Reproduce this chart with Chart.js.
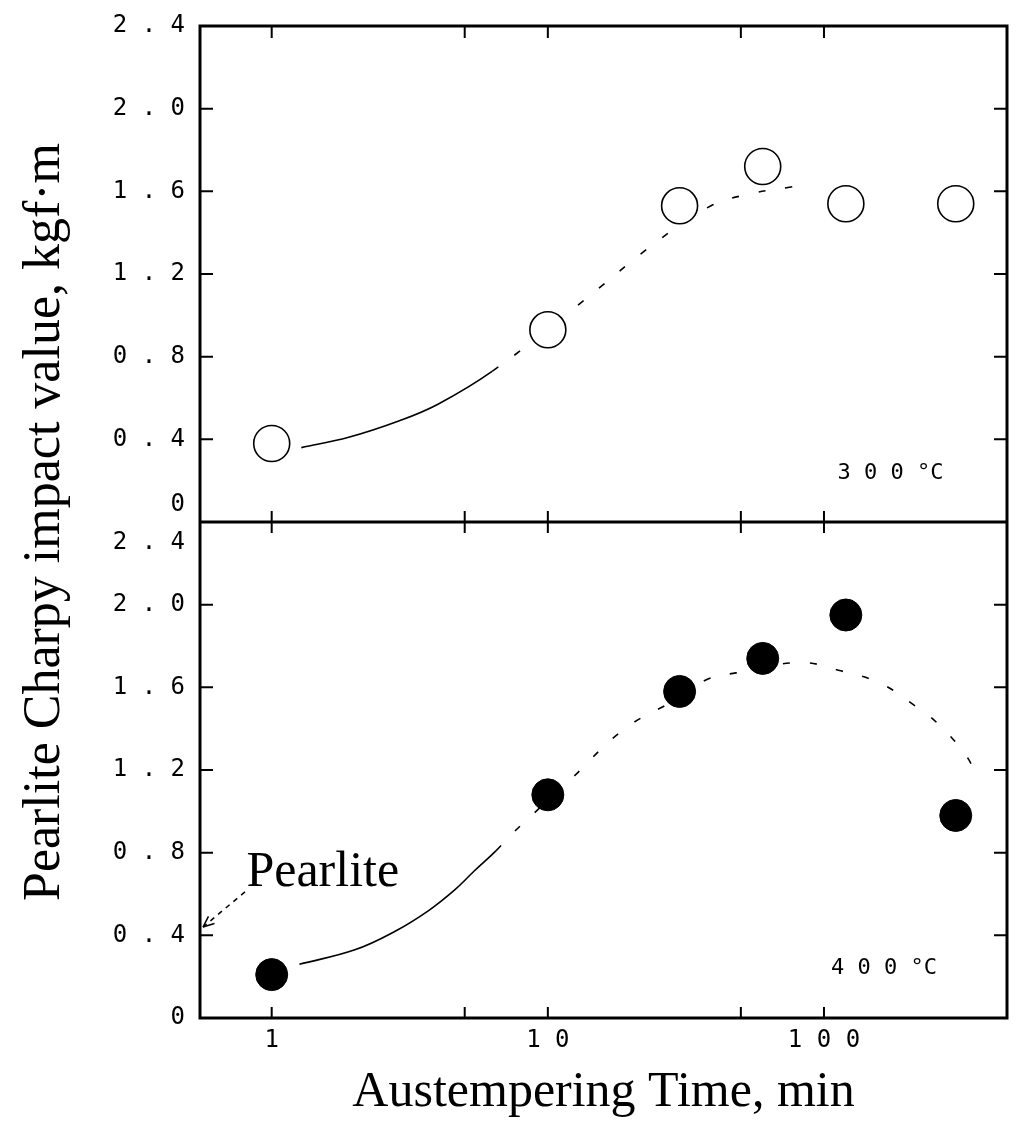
<!DOCTYPE html>
<html lang="en">
  <head>
    <meta charset="UTF-8" />
    <title>Pearlite Charpy impact value vs Austempering Time</title>
    <style>
      html, body { margin: 0; padding: 0; background: #fff; }
      .main { position: relative; width: 1018px; height: 1131px; }
    </style>
  </head>
  <body>
    <div class="main">
      <canvas id="chart-1" width="1018" height="1131"></canvas>
    </div>
    <script src="https://cdn.jsdelivr.net/npm/chart.js"></script>
    <script>
      // austempering time, min
      const times = [1, 10, 30, 60, 120, 300];
      // impact values, kgf.m
      const impact300 = [0.38, 0.93, 1.53, 1.72, 1.54, 1.54];
      const impact400 = [0.21, 1.08, 1.58, 1.74, 1.95, 0.98];

      // hand drawn trend curves
      const fit300X = [1.28, 1.9, 2.9, 4.0, 6.3, 12.6, 25, 39, 55, 75, 90];
      const fit300Y = [0.36, 0.41, 0.49, 0.57, 0.73, 1.04, 1.36, 1.53, 1.59, 1.62, 1.64];
      const fit400X = [1.26, 2.0, 2.8, 3.7, 4.6, 5.4, 6.5, 7.4, 12, 19, 30, 38, 48, 82, 115, 160, 214, 256, 323, 360];
      const fit400Y = [0.26, 0.33, 0.42, 0.52, 0.62, 0.71, 0.81, 0.89, 1.15, 1.40, 1.55, 1.64, 1.67, 1.72, 1.68, 1.62, 1.51, 1.43, 1.28, 1.17];

      // pearlite reference value (arrow on the axis)
      const pearliteValue = 0.44;

      const xTicks = [1, 5, 10, 50, 100];
      const xTickLabels = ["1", "", "1 0", "", "1 0 0"];
      const yTicks = [0, 0.4, 0.8, 1.2, 1.6, 2.0, 2.4];
      const yTickLabels = ["0", "0 . 4", "0 . 8", "1 . 2", "1 . 6", "2 . 0", "2 . 4"];

      const toXY = (xs, ys) => xs.map((v, i) => ({ x: v, y: ys[i] }));

      const tickFont = { family: "DejaVu Sans Mono", size: 24 };
      const serif = "Liberation Serif";

      const dashAfter = (limit) => (c) => (c.p0.parsed.x >= limit ? [7, 20] : undefined);

      const yScale = (hideValue) => ({
        type: "linear",
        position: "left",
        stack: "panels",
        stackWeight: 1,
        min: 0,
        max: 2.4,
        afterBuildTicks: (s) => { s.ticks = yTicks.map((v) => ({ value: v })); },
        afterFit: (s) => { s.width = 200; s.paddingTop = 0; s.paddingBottom = 0; },
        grid: { display: false, drawTicks: false },
        border: { display: false },
        ticks: {
          autoSkip: false,
          padding: 15,
          color: "#000",
          font: tickFont,
          callback: (v) => (v === hideValue ? null : yTickLabels[yTicks.indexOf(v)]),
        },
      });

      const framePlugin = {
        id: "frame",
        afterDraw(chart) {
          const { ctx, chartArea: a, scales } = chart;
          const x = scales.x, yTop = scales.yTop, yBot = scales.yBot;
          const seam = yTop.getPixelForValue(0);
          ctx.save();
          ctx.strokeStyle = "#000";
          ctx.lineWidth = 3;
          ctx.strokeRect(a.left, a.top, a.right - a.left, a.bottom - a.top);
          ctx.beginPath();
          ctx.moveTo(a.left, seam);
          ctx.lineTo(a.right, seam);
          ctx.stroke();

          ctx.lineWidth = 2;
          ctx.beginPath();
          xTicks.forEach((v) => {
            const px = x.getPixelForValue(v);
            ctx.moveTo(px, a.top); ctx.lineTo(px, a.top + 12);
            ctx.moveTo(px, seam - 11); ctx.lineTo(px, seam + 11);
            ctx.moveTo(px, a.bottom - 11); ctx.lineTo(px, a.bottom);
          });
          [yTop, yBot].forEach((s) => {
            yTicks.slice(1, -1).forEach((v) => {
              const py = s.getPixelForValue(v);
              ctx.moveTo(a.left, py); ctx.lineTo(a.left + 13, py);
              ctx.moveTo(a.right - 13, py); ctx.lineTo(a.right, py);
            });
          });
          ctx.stroke();

          // seam labels, pushed apart
          ctx.fillStyle = "#000";
          ctx.font = "24px 'DejaVu Sans Mono'";
          ctx.textAlign = "right";
          ctx.textBaseline = "middle";
          ctx.fillText(yTickLabels[0], a.left - 15, seam - 17);
          ctx.fillText(yTickLabels[yTickLabels.length - 1], a.left - 15, seam + 21);

          // panel temperature labels
          ctx.textAlign = "left";
          ctx.font = "22px 'DejaVu Sans Mono'";
          ctx.fillText("3 0 0 °C", x.getPixelForValue(112), yTop.getPixelForValue(0.235));
          ctx.fillText("4 0 0 °C", x.getPixelForValue(106), yBot.getPixelForValue(0.24));

          // Pearlite note with dashed arrow to the axis
          ctx.font = "50px '" + serif + "'";
          ctx.fillText("Pearlite", x.getPixelForValue(0.81), yBot.getPixelForValue(0.70));
          const sx = x.getPixelForValue(0.8), sy = yBot.getPixelForValue(0.61);
          const ex = a.left + 3, ey = yBot.getPixelForValue(pearliteValue);
          ctx.lineWidth = 1.5;
          ctx.setLineDash([5, 5]);
          ctx.beginPath();
          ctx.moveTo(sx, sy); ctx.lineTo(ex, ey);
          ctx.stroke();
          ctx.setLineDash([]);
          const ang = Math.atan2(ey - sy, ex - sx);
          ctx.beginPath();
          ctx.moveTo(ex, ey);
          ctx.lineTo(ex - 12 * Math.cos(ang - 0.4), ey - 12 * Math.sin(ang - 0.4));
          ctx.moveTo(ex, ey);
          ctx.lineTo(ex - 12 * Math.cos(ang + 0.4), ey - 12 * Math.sin(ang + 0.4));
          ctx.stroke();

          // y title across both panels
          ctx.translate(45, (a.top + a.bottom) / 2);
          ctx.rotate(-Math.PI / 2);
          ctx.textAlign = "center";
          ctx.font = "52px '" + serif + "'";
          ctx.fillText("Pearlite Charpy impact value, kgf\u00b7m", 0, 0);
          ctx.restore();
        },
      };

      new Chart(document.getElementById("chart-1"), {
        type: "scatter",
        data: {
          datasets: [
            {
              label: "300 °C",
              data: toXY(times, impact300),
              yAxisID: "yTop",
              pointRadius: 18,
              pointBackgroundColor: "#fff",
              pointBorderColor: "#000",
              pointBorderWidth: 1.6,
            },
            {
              label: "400 °C",
              data: toXY(times, impact400),
              yAxisID: "yBot",
              pointRadius: 16,
              pointBackgroundColor: "#000",
              pointBorderColor: "#000",
              pointBorderWidth: 1,
            },
            {
              type: "line",
              data: toXY(fit300X, fit300Y),
              yAxisID: "yTop",
              pointRadius: 0,
              borderColor: "#000",
              borderWidth: 1.6,
              tension: 0.4,
              segment: { borderDash: dashAfter(6) },
            },
            {
              type: "line",
              data: toXY(fit400X, fit400Y),
              yAxisID: "yBot",
              pointRadius: 0,
              borderColor: "#000",
              borderWidth: 1.6,
              tension: 0.4,
              segment: { borderDash: dashAfter(6) },
            },
          ],
        },
        options: {
          responsive: false,
          animation: false,
          layout: { autoPadding: false, padding: { left: 0, right: 11, top: 26, bottom: 0 } },
          plugins: { legend: { display: false }, tooltip: { enabled: false } },
          scales: {
            x: {
              type: "logarithmic",
              min: 0.55,
              max: 460,
              afterBuildTicks: (s) => { s.ticks = xTicks.map((v) => ({ value: v })); },
              afterFit: (s) => { s.height = 113; s.paddingLeft = 0; s.paddingRight = 0; },
              grid: { display: false, drawTicks: false },
              border: { display: false },
              ticks: {
                autoSkip: false,
                maxRotation: 0,
                padding: 8,
                color: "#000",
                font: tickFont,
                callback: (v) => xTickLabels[xTicks.indexOf(v)],
              },
              title: {
                display: true,
                text: "Austempering Time, min",
                color: "#000",
                font: { family: serif, size: 50 },
                padding: { top: 4, bottom: 8 },
              },
            },
            // the first stacked axis ends up at the bottom
            yBot: yScale(2.4),
            yTop: yScale(0),
          },
        },
        plugins: [framePlugin],
      });
    </script>
  </body>
</html>
